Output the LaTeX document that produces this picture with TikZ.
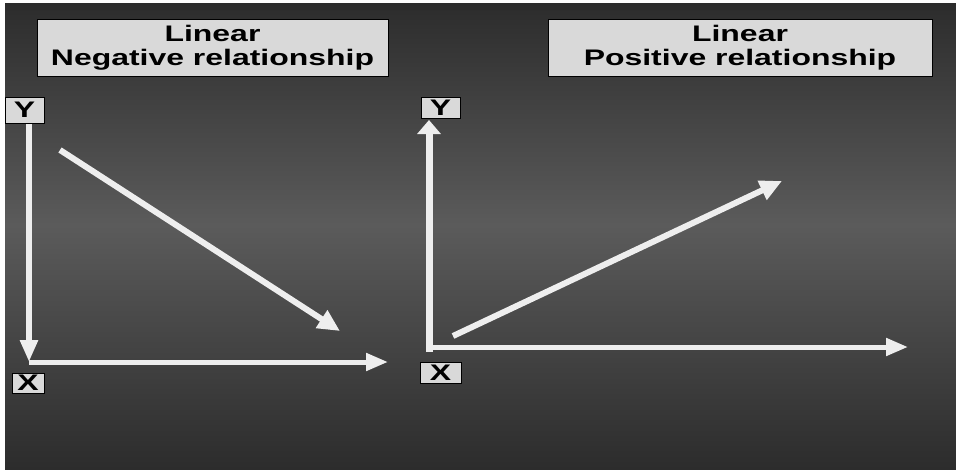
\documentclass[tikz,border=0pt]{standalone}
\usepackage{fontspec}
\setmainfont{Liberation Sans}[FakeStretch=1.42]
\usepackage{tikz}
\usetikzlibrary{arrows.meta}

\definecolor{boxgray}{HTML}{D9D9D9}
\definecolor{linegray}{HTML}{EEEEEE}
\definecolor{bgdark}{HTML}{2C2C2C}
\definecolor{bglight}{HTML}{5B5B5B}

\begin{document}
\begin{tikzpicture}[x=1pt,y=-1pt,
		labelbox/.style={draw=black, fill=boxgray, line width=0.8pt, inner sep=0pt, align=center,
			font=\bfseries\fontsize{22.5}{24}\selectfont},
		axisline/.style={color=linegray, line width=5pt, -{Triangle[length=22pt,width=17pt]}},
		trendline/.style={color=linegray, line width=6pt, -{Triangle[length=22pt,width=20pt]}}]
			\useasboundingbox (0,0) rectangle (956,469);
			\fill [white] (0,0) rectangle (956,469);
			% background, upper and lower half
			\begin{scope}[y=1pt]
				\shade [top color=bgdark, bottom color=bglight] (5,-3) rectangle (956,-225);
				\shade [top color=bglight, bottom color=bgdark] (5,-225) rectangle (956,-469);
			\end{scope}

			% left panel
			\coordinate (lo) at (29,362);
			\coordinate (lxend) at (388,362);
			\coordinate (lystart) at (29,123);
			\coordinate (ltstart) at (60,150);
			\coordinate (ltend) at (340,331);

			% right panel
			\coordinate (ro) at (429,352);
			\coordinate (ryend) at (429,120);
			\coordinate (rxstart) at (433,347);
			\coordinate (rxend) at (908,347);
			\coordinate (rtstart) at (453,336);
			\coordinate (rtend) at (782,181);

			\draw [axisline, line width=6pt] (lystart) -- (lo);
			\draw [axisline] (lo) -- (lxend);
			\draw [trendline] (ltstart) -- (ltend);

			\draw [axisline, line width=7pt, -{Triangle[length=14pt,width=23pt]}] (ro) -- (ryend);
			\draw [axisline] (rxstart) -- (rxend);
			\draw [trendline] (rtstart) -- (rtend);

			\node (negtitle) [labelbox, minimum width=351pt, minimum height=57pt] at (212.5,47.5) {Linear\\Negative relationship};
			\node (postitle) [labelbox, minimum width=384pt, minimum height=57pt] at (740,47.5) {Linear\\Positive relationship};

			\node (ly) [labelbox, minimum width=39pt, minimum height=26pt] at (24.5,110) {Y};
			\node (lx) [labelbox, minimum width=32pt, minimum height=20pt] at (28,383) {X};
			\node (ry) [labelbox, minimum width=39pt, minimum height=21pt] at (440.5,107.5) {Y};
			\node (rx) [labelbox, minimum width=41pt, minimum height=21pt] at (440.5,372.5) {X};

		\end{tikzpicture}
\end{document}
